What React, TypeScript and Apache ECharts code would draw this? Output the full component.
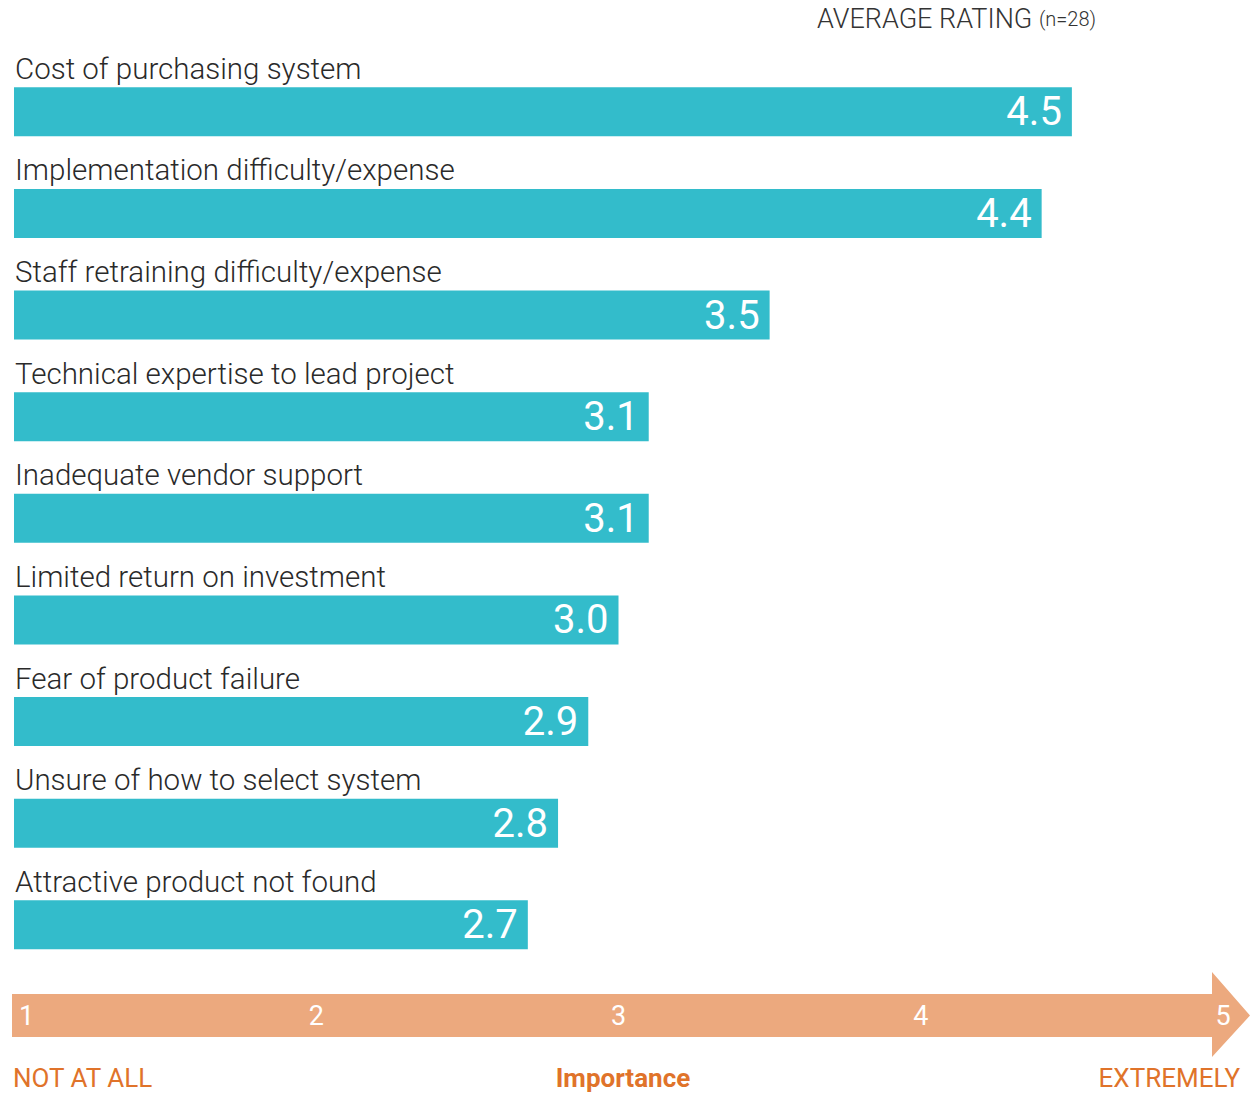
import React, { useEffect, useRef } from "react";
import * as echarts from "echarts";

const categories = [
  "Cost of purchasing system",
  "Implementation difficulty/expense",
  "Staff retraining difficulty/expense",
  "Technical expertise to lead project",
  "Inadequate vendor support",
  "Limited return on investment",
  "Fear of product failure",
  "Unsure of how to select system",
  "Attractive product not found",
];
const ratings = [4.5, 4.4, 3.5, 3.1, 3.1, 3.0, 2.9, 2.8, 2.7];
const scaleTicks = [1, 2, 3, 4, 5];
const titleText = "AVERAGE RATING";
const sampleText = "(n=28)";
const lowEnd = "NOT AT ALL";
const axisTitle = "Importance";
const highEnd = "EXTREMELY";

const FONT = "Roboto, 'Liberation Sans', sans-serif";
const BAR = "#33bccb";
const ARROW = "#eca97e";
const ORANGE = "#e0732a";

export default function App() {
  const ref = useRef<HTMLDivElement>(null);
  useEffect(() => {
    if (!ref.current) return;
    const chart = echarts.init(ref.current, undefined, { renderer: "svg" });
    chart.setOption({
      animation: false,
      backgroundColor: "#ffffff",
      textStyle: { fontFamily: FONT },
      grid: { left: 14, width: 1209, top: 61, height: 914.6, containLabel: false },
      xAxis: {
        type: "value",
        min: scaleTicks[0],
        max: scaleTicks[scaleTicks.length - 1],
        interval: 1,
        position: "bottom",
        z: 10,
        splitLine: { show: false },
        axisLine: { show: false },
        axisTick: { show: false },
        axisLabel: {
          color: "#ffffff",
          fontSize: 27,
          fontFamily: FONT,
          fontWeight: 400,
          margin: 27,
          alignMinLabel: "left",
          formatter: (v: number) => (v === scaleTicks[0] ? `{p|${v}}` : String(v)),
          rich: {
            p: { padding: [0, 0, 0, 5], color: "#ffffff", fontSize: 27, fontFamily: FONT, fontWeight: 400 },
          },
        },
      },
      yAxis: {
        type: "category",
        inverse: true,
        data: categories,
        z: 10,
        axisLine: { show: false },
        axisTick: { show: false },
        splitLine: { show: false },
        axisLabel: {
          inside: true,
          margin: 1,
          color: "#2a2a2a",
          fontSize: 29.5,
          fontFamily: FONT,
          fontWeight: 300,
          verticalAlign: "bottom",
          padding: [0, 0, 28, 0],
        },
      },
      graphic: [
        {
          type: "polygon",
          z: 0,
          shape: {
            points: [
              [12, 994],
              [1212, 994],
              [1212, 972],
              [1250, 1015.5],
              [1212, 1057],
              [1212, 1037],
              [12, 1037],
            ],
          },
          style: { fill: ARROW },
        },
        {
          type: "text",
          x: 817,
          y: 19,
          style: {
            text: `${titleText} {s|${sampleText}}`,
            fill: "#333333",
            fontSize: 27,
            fontFamily: FONT,
            fontWeight: 300,
            verticalAlign: "middle",
            rich: { s: { fontSize: 20, fill: "#333333", fontFamily: FONT, fontWeight: 300 } },
          },
        },
        {
          type: "text",
          x: 13,
          y: 1078,
          style: { text: lowEnd, fill: ORANGE, fontSize: 26, fontFamily: FONT, verticalAlign: "middle", align: "left" },
        },
        {
          type: "text",
          x: 623,
          y: 1078,
          style: { text: axisTitle, fill: ORANGE, fontSize: 26, fontWeight: "bold", fontFamily: FONT, verticalAlign: "middle", align: "center" },
        },
        {
          type: "text",
          x: 1240,
          y: 1078,
          style: { text: highEnd, fill: ORANGE, fontSize: 26, fontFamily: FONT, verticalAlign: "middle", align: "right" },
        },
      ],
      series: [
        {
          type: "bar",
          data: ratings,
          barWidth: 49,
          itemStyle: { color: BAR },
          label: {
            show: true,
            position: "insideRight",
            distance: 10,
            color: "#ffffff",
            fontSize: 40,
            fontFamily: FONT,
            fontWeight: 400,
            formatter: (p: any) => Number(p.value).toFixed(1),
          },
        },
      ],
    });
    return () => chart.dispose();
  }, []);
  return (
    <div
      ref={ref}
      style={{ position: "fixed", left: 0, top: 0, width: 1251, height: 1094 }}
    />
  );
}
